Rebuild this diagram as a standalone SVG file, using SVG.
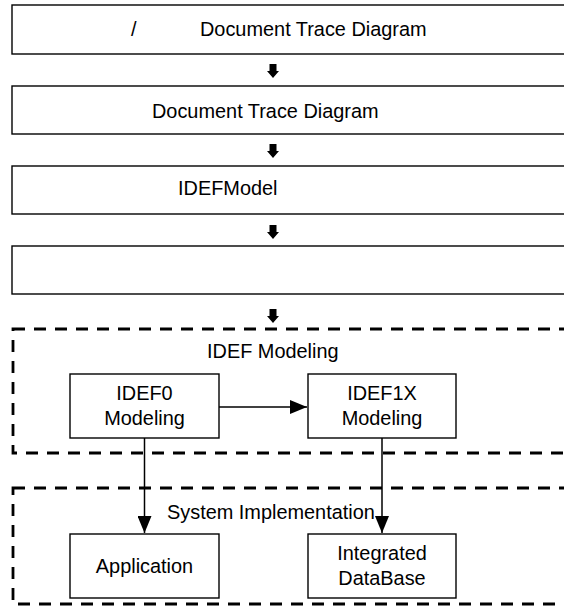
<svg xmlns="http://www.w3.org/2000/svg" width="564" height="613" viewBox="0 0 564 613">
<style>
.box{fill:#fff;stroke:#000;stroke-width:1.4}
.grp{fill:none;stroke:#000;stroke-width:2.8;stroke-dasharray:12 9}
.t{font-family:"Liberation Sans",Arial,sans-serif;font-size:19.9px;fill:#000}
.m{text-anchor:middle}
.ln{stroke:#000;stroke-width:1.5;fill:none}
.blk{fill:#000}
</style>
<defs>
<marker id="ah" markerWidth="17" markerHeight="14" refX="17" refY="7" orient="auto" markerUnits="userSpaceOnUse">
<path d="M0,0 L17,7 L0,14 Z" fill="#000"/>
</marker>
</defs>
<rect width="564" height="613" fill="#fff"/>
<g id="n1"><rect class="box" x="12" y="5" width="570" height="49"/><text class="t" x="131" y="36">/</text><text class="t" x="200" y="36">Document Trace Diagram</text></g>
<g id="n2"><rect class="box" x="12" y="86" width="570" height="48"/><text class="t" x="152" y="118">Document Trace Diagram</text></g>
<g id="n3"><rect class="box" x="12" y="166" width="570" height="48"/><text class="t" x="178" y="195">IDEFModel</text></g>
<g id="n4"><rect class="box" x="12" y="246" width="570" height="48"/></g>
<g id="g1"><rect class="grp" x="13" y="329" width="570" height="124"/><text class="t" x="207" y="358">IDEF Modeling</text></g>
<g id="g2"><rect class="grp" x="13" y="488" width="570" height="116"/><text class="t" x="167" y="519">System Implementation</text></g>
<g id="idef0"><rect class="box" x="70" y="374" width="149" height="64"/><text class="t m" x="144.5" y="400">IDEF0</text><text class="t m" x="144.5" y="425">Modeling</text></g>
<g id="idef1x"><rect class="box" x="308" y="374" width="148" height="64"/><text class="t m" x="382" y="400">IDEF1X</text><text class="t m" x="382" y="425">Modeling</text></g>
<g id="app"><rect class="box" x="70" y="534" width="149" height="64"/><text class="t m" x="144.5" y="573">Application</text></g>
<g id="db"><rect class="box" x="308" y="534" width="148" height="64"/><text class="t m" x="382" y="560">Integrated</text><text class="t m" x="382" y="585">DataBase</text></g>
<g id="connectors">
<path class="blk" d="M269.5,64 h7 v7 h2.5 L273,78 L267,71 h2.5 Z"/>
<path class="blk" d="M269.5,144 h7 v7 h2.5 L273,158 L267,151 h2.5 Z"/>
<path class="blk" d="M269.5,225 h7 v7 h2.5 L273,239 L267,232 h2.5 Z"/>
<path class="blk" d="M269.5,309 h7 v7 h2.5 L273,323 L267,316 h2.5 Z"/>
<line class="ln" x1="219" y1="407" x2="307" y2="407" marker-end="url(#ah)"/>
<line class="ln" x1="144.5" y1="438" x2="144.5" y2="533" marker-end="url(#ah)"/>
<line class="ln" x1="382" y1="438" x2="382" y2="533" marker-end="url(#ah)"/>
</g>
</svg>
